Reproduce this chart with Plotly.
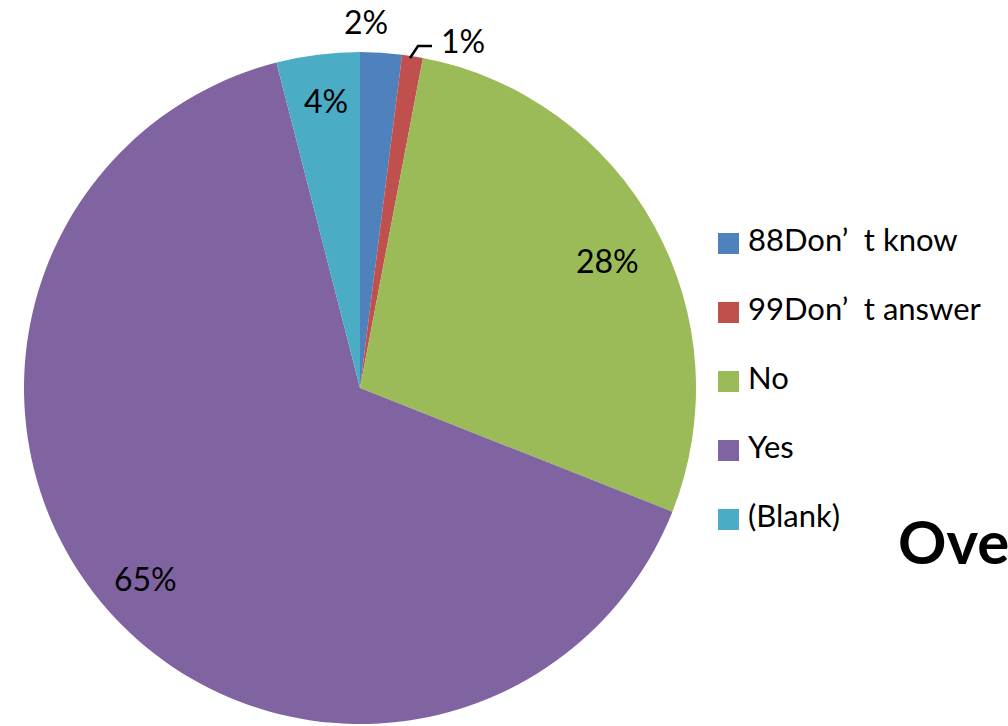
import plotly.graph_objects as go

# Survey response shares (percent)
categories = ["88Don’\u2002t know", "99Don’\u2002t answer", "No", "Yes", "(Blank)"]
shares = [2, 1, 28, 65, 4]
colors = ["#4F81BD", "#C0504D", "#9BBB59", "#8064A2", "#4BACC6"]

W, H = 1008, 726


def px(x, y):
    """Convert pixel coordinates (origin top-left) to paper coordinates."""
    return x / W, 1 - y / H


# Pie geometry in pixels
cx, cy, r = 360, 388, 336
x0, y1 = px(cx - r, cy - r)
x1, y0 = px(cx + r, cy + r)

fig = go.Figure(
    go.Pie(
        labels=categories,
        values=shares,
        sort=False,
        direction="clockwise",
        rotation=0,
        marker=dict(colors=colors, line=dict(width=0)),
        textinfo="none",
        hoverinfo="label+percent",
        showlegend=False,
        domain=dict(x=[x0, x1], y=[y0, y1]),
    )
)

annotations = []
shapes = []

# Data labels placed around the slices
label_pos = [(366, 22), (463, 40), (607, 260), (145, 578), (326, 100)]
for val, (lx, ly) in zip(shares, label_pos):
    ax, ay = px(lx, ly)
    annotations.append(dict(
        x=ax, y=ay, xref="paper", yref="paper", text=f"{val}%",
        showarrow=False, xanchor="center", yanchor="middle",
        font=dict(family="Lato", size=32, color="#000000"),
    ))

# Leader line for the small slice label
p1 = px(410, 58)
p2 = px(418, 46)
p3 = px(432, 46)
shapes.append(dict(
    type="path", xref="paper", yref="paper",
    path=f"M {p1[0]} {p1[1]} L {p2[0]} {p2[1]} L {p3[0]} {p3[1]}",
    line=dict(color="#000000", width=2.5),
))

# Legend drawn as swatches plus text
for i, (name, col) in enumerate(zip(categories, colors)):
    rowy = 243 + 69 * i
    sx0, sy0 = px(718, rowy - 10)
    sx1, sy1 = px(739, rowy + 11)
    shapes.append(dict(
        type="rect", xref="paper", yref="paper",
        x0=sx0, x1=sx1, y0=sy1, y1=sy0,
        fillcolor=col, line=dict(width=0),
    ))
    tx, ty = px(746, rowy - 4)
    annotations.append(dict(
        x=tx, y=ty, xref="paper", yref="paper", text=name,
        showarrow=False, xanchor="left", yanchor="middle",
        font=dict(family="Lato", size=31, color="#000000"),
    ))

# Chart title
tx, ty = px(896, 541)
annotations.append(dict(
    x=tx, y=ty, xref="paper", yref="paper", text="<b>Overall</b>",
    showarrow=False, xanchor="left", yanchor="middle",
    font=dict(family="Lato", size=60, color="#000000"),
))

fig.update_layout(
    width=W, height=H,
    margin=dict(l=0, r=0, t=0, b=0),
    paper_bgcolor="#FFFFFF",
    plot_bgcolor="#FFFFFF",
    annotations=annotations,
    shapes=shapes,
)

fig.write_html("out.html")
